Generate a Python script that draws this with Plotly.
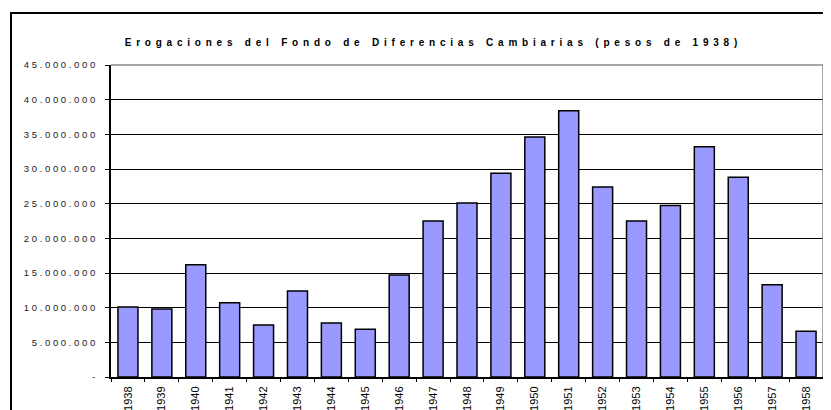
import plotly.graph_objects as go

years = [str(y) for y in range(1938, 1959)]
values = [10100000, 9800000, 16200000, 10700000, 7500000, 12400000, 7800000, 6900000,
          14700000, 22500000, 25100000, 29400000, 34600000, 38400000, 27400000, 22500000,
          24750000, 33200000, 28800000, 13300000, 6600000]
tick_vals = [0, 5000000, 10000000, 15000000, 20000000, 25000000, 30000000, 35000000, 40000000, 45000000]
tick_text = ["-", "5.000.000", "10.000.000", "15.000.000", "20.000.000", "25.000.000",
             "30.000.000", "35.000.000", "40.000.000", "45.000.000"]
title_text = "Erogaciones del Fondo de Diferencias Cambiarias (pesos de 1938)"

NB = "\u00a0"
TH = "\u2009"
def spaced(s, gap=NB):
    return gap.join(list(s.replace(" ", NB)))

# page body has an 8px margin: work in figure coordinates = page - 8
OFF = 8
W, H = 831 - OFF, 410 - OFF
L = 111 - OFF
T = 65 - OFF
R = W - (823 - OFF)
B = H - (377 - OFF)
pw, ph = W - L - R, H - T - B

fig = go.Figure(go.Bar(
    x=years, y=values,
    marker=dict(color="#9999FF", line=dict(color="black", width=1.5)),
))

fig.update_layout(
    width=W, height=H,
    margin=dict(l=L, r=R, t=T, b=B),
    paper_bgcolor="white", plot_bgcolor="white",
    bargap=0.41,
    showlegend=False,
    font=dict(family="Liberation Sans, Arial", color="#222"),
    title=dict(text="<b>" + spaced(title_text, NB + TH) + "</b>",
               x=(431 - OFF) / W, xanchor="center", xref="container",
               y=1 - (42 - OFF) / H, yanchor="middle", yref="container",
               font=dict(size=10, color="black", family="Liberation Sans, Arial")),
)

fig.update_xaxes(
    type="category", tickangle=-90, tickson="boundaries",
    ticks="outside", ticklen=3, tickcolor="black", tickwidth=1,
    showline=True, linecolor="black", linewidth=2,
    showgrid=False, automargin=False,
    tickfont=dict(size=11, color="black"),
    ticklabelstandoff=3,
)
fig.update_yaxes(
    range=[0, 45000000],
    tickvals=tick_vals, ticktext=[spaced(t) + NB * 3 for t in tick_text],
    ticks="outside", ticklen=4, tickcolor="black", tickwidth=1,
    showline=True, linecolor="black", linewidth=2,
    showgrid=True, gridcolor="black", gridwidth=1, automargin=False,
    tickfont=dict(size=9.5, color="#222"),
    zeroline=False,
)

shapes = [
    dict(type="line", xref="paper", yref="paper", x0=0, x1=1, y0=1, y1=1,
         line=dict(color="#888", width=1.5)),
    dict(type="line", xref="paper", yref="paper", x0=1, x1=1, y0=0, y1=1,
         line=dict(color="#888", width=1.5)),
    dict(type="rect", xref="paper", yref="paper",
         x0=(11 - 111) / pw, x1=(845 - 111) / pw, y0=-0.5, y1=(377 - 13) / ph,
         line=dict(color="black", width=2), fillcolor="rgba(0,0,0,0)", layer="above"),
]
fig.update_layout(shapes=shapes)

fig.write_html("out.html")
